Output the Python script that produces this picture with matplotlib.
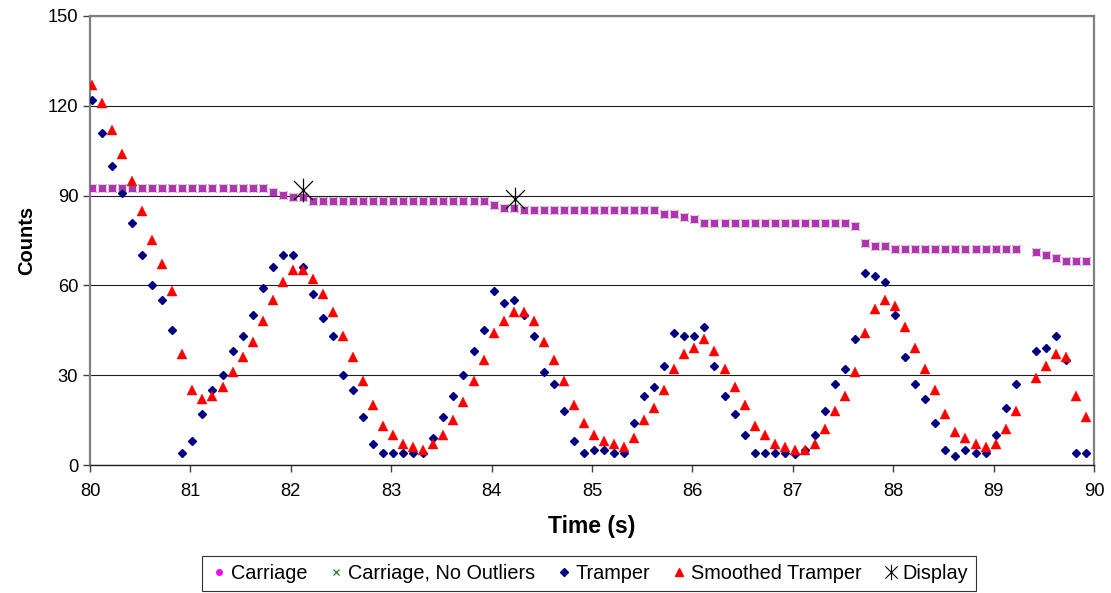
import numpy as np
import matplotlib
matplotlib.use("Agg")
import matplotlib.pyplot as plt
from matplotlib.path import Path
from matplotlib.lines import Line2D

plt.rcParams['font.family'] = ['Liberation Sans', 'DejaVu Sans']

# Sample times: 10 Hz from 80.0 s to 89.9 s (sample at 89.3 s was dropped)
t_start = 80.02
t_step = 0.1
n_samples = 100

nan = np.nan

carriage = [
    92.4, 92.4, 92.4, 92.4, 92.4, 92.4, 92.4, 92.4, 92.4, 92.4,
    92.4, 92.4, 92.4, 92.4, 92.4, 92.4, 92.4, 92.4, 91.2, 90.2,
    89.5, 89.5, 88.3, 88.3, 88.3, 88.3, 88.3, 88.3, 88.3, 88.3,
    88.3, 88.3, 88.3, 88.3, 88.3, 88.3, 88.3, 88.3, 88.3, 88.3,
    87.0, 86.0, 86.0, 85.2, 85.2, 85.2, 85.2, 85.2, 85.2, 85.2,
    85.2, 85.2, 85.2, 85.2, 85.2, 85.2, 85.2, 84.0, 84.0, 83.0,
    82.2, 81.0, 81.0, 81.0, 81.0, 81.0, 81.0, 81.0, 81.0, 81.0,
    81.0, 81.0, 81.0, 81.0, 81.0, 81.0, 80.0, 74.0, 73.3, 73.3,
    72.2, 72.2, 72.2, 72.2, 72.2, 72.2, 72.2, 72.2, 72.2, 72.2,
    72.2, 72.2, 72.2, nan, 71.0, 70.3, 69.0, 68.0, 68.0, 68.0,
]

carriage_no_outliers = list(carriage)

tramper = [
    122, 111, 100, 91, 81, 70, 60, 55, 45, 4,
    8, 17, 25, 30, 38, 43, 50, 59, 66, 70,
    70, 66, 57, 49, 43, 30, 25, 16, 7, 4,
    4, 4, 4, 4, 9, 16, 23, 30, 38, 45,
    58, 54, 55, 50, 43, 31, 27, 18, 8, 4,
    5, 5, 4, 4, 14, 23, 26, 33, 44, 43,
    43, 46, 33, 23, 17, 10, 4, 4, 4, 4,
    3.7, 5, 10, 18, 27, 32, 42, 64, 63, 61,
    50, 36, 27, 22, 14, 5, 3, 5, 4, 4,
    10, 19, 27, nan, 38, 39, 43, 35, 4, 4,
]

smoothed_tramper = [
    127, 121, 112, 104, 95, 85, 75, 67, 58, 37,
    25, 22, 23, 26, 31, 36, 41, 48, 55, 61,
    65, 65, 62, 57, 51, 43, 36, 28, 20, 13,
    10, 7, 6, 5, 7, 10, 15, 21, 28, 35,
    44, 48, 51, 51, 48, 41, 35, 28, 20, 14,
    10, 8, 7, 6, 9, 15, 19, 25, 32, 37,
    39, 42, 38, 32, 26, 20, 13, 10, 7, 6,
    5, 5, 7, 12, 18, 23, 31, 44, 52, 55,
    53, 46, 39, 32, 25, 17, 11, 9, 7, 6,
    7, 12, 18, nan, 29, 33, 37, 36, 23, 16,
]

display_time = [82.12, 84.23]
display_counts = [92, 89]

x_ticks = [80, 81, 82, 83, 84, 85, 86, 87, 88, 89, 90]
y_ticks = [0, 30, 60, 90, 120, 150]

series_labels = ['Carriage', 'Carriage, No Outliers', 'Tramper', 'Smoothed Tramper', 'Display']

time = t_start + t_step * np.arange(n_samples)

# Star marker: an X crossed by a vertical bar
star_path = Path(
    [(-1, -1), (1, 1), (-1, 1), (1, -1), (0, -1.25), (0, 1.25)],
    [Path.MOVETO, Path.LINETO, Path.MOVETO, Path.LINETO, Path.MOVETO, Path.LINETO],
)

fig = plt.figure(figsize=(11.11, 5.93), dpi=100)
ax = fig.add_axes([90 / 1111, 1 - 465 / 593, (1094 - 90) / 1111, (465 - 16) / 593])

ax.set_xlim(80, 90)
ax.set_ylim(0, 150)
ax.set_xticks(x_ticks)
ax.set_yticks(y_ticks)
ax.yaxis.grid(True, color='#202020', linewidth=0.8)
ax.set_axisbelow(True)

ax.plot(time, carriage, linestyle='none', marker='s', markersize=4.8,
        color='#FF00FF', markeredgecolor='#FF00FF', zorder=3)
ax.plot(time, carriage_no_outliers, linestyle='none', marker='x', markersize=5.2,
        markeredgewidth=0.7, color='#2E8B2E', zorder=4)
ax.plot(time, tramper, linestyle='none', marker='D', markersize=4.2,
        color='#000080', markeredgecolor='#000080', zorder=3)
ax.plot(time, smoothed_tramper, linestyle='none', marker='^', markersize=6.5,
        color='#FF0000', markeredgecolor='#FF0000', markeredgewidth=0.3, zorder=3)
ax.plot(display_time, display_counts, linestyle='none', marker=star_path,
        markersize=17, markeredgewidth=0.9, color='black', fillstyle='none', zorder=5)

for side in ['top', 'right', 'left']:
    ax.spines[side].set_color('#808080')
    ax.spines[side].set_linewidth(1.6)
ax.spines['bottom'].set_color('#202020')
ax.spines['bottom'].set_linewidth(1.0)

ax.tick_params(axis='both', direction='out', length=5, width=1.0,
               colors='#404040', labelcolor='black', labelsize=13.2)
ax.tick_params(axis='x', pad=8)

ax.set_xlabel('Time (s)', fontsize=16.5, fontweight='bold', labelpad=11)
ax.set_ylabel('Counts', fontsize=14.5, fontweight='bold', labelpad=8)

# Legend handles: round dot for the carriage series
handles = [
    Line2D([], [], linestyle='none', marker='o', markersize=4, color='#FF00FF'),
    Line2D([], [], linestyle='none', marker='x', markersize=4.5, markeredgewidth=0.9, color='#208020'),
    Line2D([], [], linestyle='none', marker='D', markersize=3.6, color='#000080'),
    Line2D([], [], linestyle='none', marker='^', markersize=5.5, color='#FF0000'),
    Line2D([], [], linestyle='none', marker=star_path, markersize=11, markeredgewidth=0.8,
           color='black', fillstyle='none'),
]

leg = fig.legend(handles, series_labels, loc='lower center',
                 bbox_to_anchor=(589 / 1111, 0.0), ncol=5, borderaxespad=0.1,
                 fontsize=14.3, frameon=True, fancybox=False, edgecolor='black',
                 handletextpad=0.15, columnspacing=1.0, borderpad=0.4,
                 handlelength=0.9)
leg.get_frame().set_linewidth(0.8)

fig.savefig('out.png', dpi=100)
